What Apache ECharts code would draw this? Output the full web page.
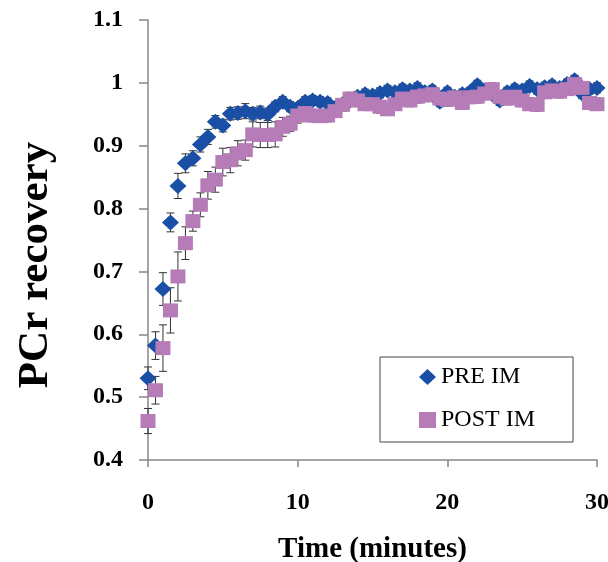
<!DOCTYPE html>
<html>
<head>
<meta charset="utf-8">
<script src="https://cdn.jsdelivr.net/npm/echarts@6/dist/echarts.min.js"></script>
<style>html,body{margin:0;padding:0;background:#fff}#c{width:608px;height:562px}</style>
</head>
<body>
<div id="c"></div>
<script>
var times = [0,0.5,1,1.5,2,2.5,3,3.5,4,4.5,5,5.5,6,6.5,7,7.5,8,8.5,9,9.5,10,10.5,11,11.5,12,12.5,13,13.5,14,14.5,15,15.5,16,16.5,17,17.5,18,18.5,19,19.5,20,20.5,21,21.5,22,22.5,23,23.5,24,24.5,25,25.5,26,26.5,27,27.5,28,28.5,29,29.5,30];
var preIM = [0.530,0.582,0.672,0.778,0.836,0.872,0.880,0.902,0.914,0.938,0.932,0.951,0.952,0.955,0.951,0.953,0.950,0.962,0.970,0.962,0.960,0.970,0.972,0.970,0.968,0.960,0.966,0.972,0.978,0.982,0.980,0.984,0.988,0.985,0.990,0.988,0.992,0.985,0.988,0.970,0.985,0.978,0.982,0.985,0.996,0.988,0.982,0.972,0.985,0.990,0.988,0.995,0.990,0.993,0.996,0.992,0.998,1.004,0.983,0.990,0.992];
var preErr = [0.018,0.022,0.026,0.015,0.020,0.015,0.012,0.012,0.012,0.010,0.010,0.010,0.010,0.012,0.010,0.010,0.010,0.008,0.008,0.008,0.008,0.008,0.008,0.008,0.008,0.008,0.008,0.008,0.008,0.008,0.008,0.008,0.008,0.008,0.008,0.008,0.008,0.008,0.008,0.008,0.008,0.008,0.008,0.008,0.008,0.008,0.008,0.008,0.008,0.008,0.008,0.008,0.008,0.008,0.008,0.008,0.008,0.008,0.008,0.008,0.008];
var postIM = [0.462,0.511,0.578,0.638,0.692,0.745,0.780,0.806,0.837,0.846,0.874,0.877,0.888,0.893,0.918,0.917,0.917,0.918,0.930,0.935,0.948,0.952,0.948,0.947,0.948,0.955,0.965,0.975,0.972,0.966,0.966,0.962,0.958,0.966,0.975,0.972,0.978,0.980,0.982,0.975,0.973,0.977,0.968,0.977,0.978,0.983,0.990,0.978,0.975,0.978,0.972,0.966,0.965,0.985,0.988,0.986,0.990,0.998,0.992,0.968,0.966];
var postErr = [0.020,0.022,0.037,0.036,0.039,0.026,0.016,0.019,0.022,0.020,0.022,0.020,0.020,0.016,0.020,0.020,0.020,0.020,0.015,0.012,0.012,0.010,0.010,0.010,0.010,0.010,0.010,0.010,0.010,0.010,0.010,0.010,0.010,0.010,0.010,0.010,0.010,0.010,0.010,0.010,0.010,0.010,0.010,0.010,0.010,0.010,0.010,0.010,0.010,0.010,0.010,0.010,0.010,0.010,0.010,0.010,0.010,0.010,0.010,0.010,0.010];
var yTicks = [0.4,0.5,0.6,0.7,0.8,0.9,1,1.1];
var xTicks = [0,10,20,30];

var FONT = "'Liberation Serif','Times New Roman',serif";
var BLUE = '#1a4fa6', PINK = '#b57cb8';

function pairs(ys){ return times.map(function(t,i){ return [t, ys[i]]; }); }
function errData(ys, es){ return times.map(function(t,i){ return [t, ys[i]-es[i], ys[i]+es[i]]; }); }
function errRender(params, api){
  var x = api.value(0);
  var lo = api.coord([x, api.value(1)]);
  var hi = api.coord([x, api.value(2)]);
  var w = 4;
  var st = {stroke:'#333', lineWidth:1};
  return {type:'group', children:[
    {type:'line', shape:{x1:lo[0],y1:lo[1],x2:hi[0],y2:hi[1]}, style:st},
    {type:'line', shape:{x1:lo[0]-w,y1:lo[1],x2:lo[0]+w,y2:lo[1]}, style:st},
    {type:'line', shape:{x1:hi[0]-w,y1:hi[1],x2:hi[0]+w,y2:hi[1]}, style:st}
  ]};
}

var chart = echarts.init(document.getElementById('c'), null, {renderer:'canvas'});
chart.setOption({
  animation:false,
  backgroundColor:'#fff',
  grid:{left:148, right:11, top:20, bottom:102, containLabel:false, outerBoundsMode:'none'},
  xAxis:{
    type:'value', min:xTicks[0], max:xTicks[xTicks.length-1], interval:10,
    name:'Time (minutes)', nameLocation:'middle', nameGap:75,
    nameTextStyle:{fontFamily:FONT, fontWeight:'bold', fontSize:29, color:'#000'},
    axisLine:{show:true, onZero:false, lineStyle:{color:'#888', width:1.5}},
    axisTick:{show:true, inside:false, length:7, lineStyle:{color:'#888', width:1.5}},
    axisLabel:{fontFamily:FONT, fontWeight:'bold', fontSize:24, color:'#000', margin:31},
    splitLine:{show:false}
  },
  yAxis:{
    type:'value', min:yTicks[0], max:yTicks[yTicks.length-1], interval:0.1,
    axisLine:{show:true, onZero:false, lineStyle:{color:'#888', width:1.5}},
    axisTick:{show:true, inside:false, length:9, lineStyle:{color:'#888', width:1.5}},
    axisLabel:{fontFamily:FONT, fontWeight:'bold', fontSize:24, color:'#000', margin:25,
      formatter:function(v){ return String(Math.round(v*10)/10); }},
    splitLine:{show:false}
  },
  legend:{
    orient:'vertical', left:380, top:357,
    padding:[8,38,10,39], itemGap:19, itemWidth:17, itemHeight:16,
    borderColor:'#444', borderWidth:1, backgroundColor:'#fff',
    textStyle:{fontFamily:FONT, fontSize:24, color:'#000'},
    data:[{name:'PRE IM', icon:'diamond'},{name:'POST IM', icon:'rect'}]
  },
  graphic:[{
    type:'text', x:36, y:265, rotation:Math.PI/2,
    style:{text:'PCr recovery', font:"bold 43px 'Liberation Serif','Times New Roman',serif", fill:'#000', align:'center', verticalAlign:'middle'}
  }],
  series:[
    {type:'custom', name:'preErr', renderItem:errRender, data:errData(preIM, preErr), z:1, silent:true},
    {type:'custom', name:'postErr', renderItem:errRender, data:errData(postIM, postErr), z:1, silent:true},
    {type:'scatter', name:'PRE IM', symbol:'diamond', symbolSize:[17,16], itemStyle:{color:BLUE, opacity:1}, data:pairs(preIM), z:3},
    {type:'scatter', name:'POST IM', symbol:'rect', symbolSize:[15,14], itemStyle:{color:PINK, opacity:1}, data:pairs(postIM), z:4}
  ]
});
</script>
</body>
</html>
